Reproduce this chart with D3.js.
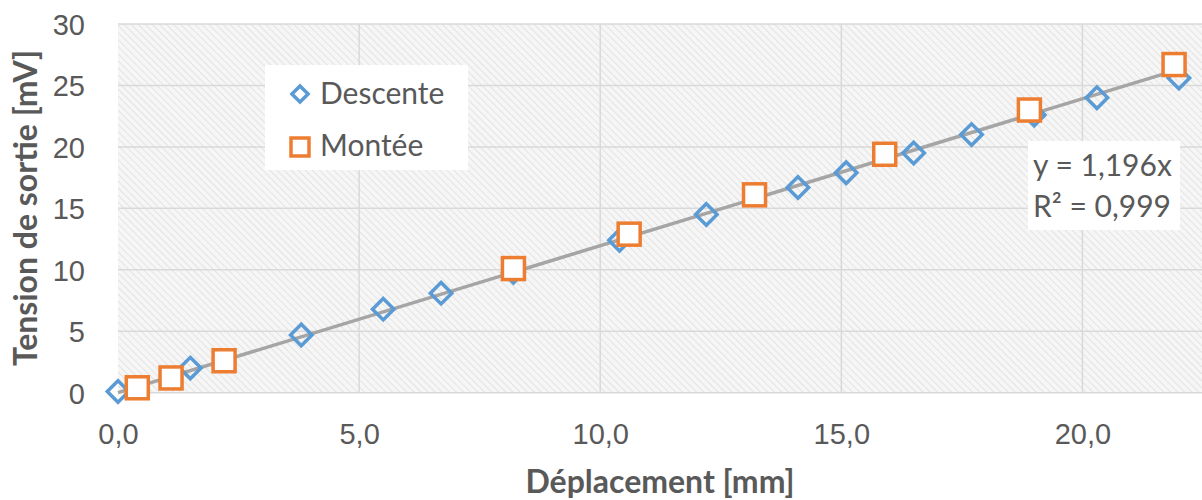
<!DOCTYPE html>
<html><head><meta charset="utf-8">
<script src="https://cdn.jsdelivr.net/npm/d3@7"></script>
<style>html,body{margin:0;padding:0;background:#fff;}svg{display:block;font-family:Lato,"Open Sans",sans-serif;}</style>
</head><body><svg id="c" width="1202" height="500"></svg>
<script>
const descX = [0.0, 1.5, 3.8, 5.5, 6.7, 8.2, 10.4, 12.2, 14.1, 15.1, 16.5, 17.7, 19.0, 20.3, 22.0];
const descY = [0.1, 2.0, 4.7, 6.8, 8.1, 9.8, 12.4, 14.5, 16.7, 17.9, 19.5, 21.0, 22.6, 24.0, 25.6];
const montX = [0.4, 1.1, 2.2, 8.2, 10.6, 13.2, 15.9, 18.9, 21.9];
const montY = [0.4, 1.2, 2.6, 10.1, 12.9, 16.1, 19.4, 23.0, 26.7];
const xTicks = [0, 5, 10, 15, 20];
const yTicks = [0, 5, 10, 15, 20, 25, 30];
const slope = 1.196;
const trendX = [0, 22.0];
const seriesNames = ["Descente", "Montée"];
const eqLines = ["y = 1,196x", "R² = 0,999"];

const svg = d3.select("#c");
const x = d3.scaleLinear().domain([0, 22.5]).range([118, 1203]);
const y = d3.scaleLinear().domain([0, 30]).range([392.7, 24]);
const fmtX = v => d3.format(".1f")(v).replace(".", ",");
const textCol = "#595959";

const defs = svg.append("defs");
const pat = defs.append("pattern").attr("id","hatch").attr("patternUnits","userSpaceOnUse")
  .attr("width",5).attr("height",5).attr("patternTransform","rotate(-45)");
pat.append("rect").attr("width",5).attr("height",5).attr("fill","#f6f6f6");
pat.append("line").attr("x1",0).attr("y1",0).attr("x2",0).attr("y2",5).attr("stroke","#e3e3e3").attr("stroke-width",2);

svg.append("rect").attr("x",x(0)).attr("y",y(30)).attr("width",x(22.5)-x(0)).attr("height",y(0)-y(30)).attr("fill","url(#hatch)");

// gridlines
svg.append("g").selectAll("line").data(yTicks).join("line")
  .attr("x1",x(0)).attr("x2",x(22.5)).attr("y1",d=>y(d)).attr("y2",d=>y(d))
  .attr("stroke","#d9d9d9").attr("stroke-width",1.5);
svg.append("g").selectAll("line").data(xTicks.filter(d=>d>0)).join("line")
  .attr("x1",d=>x(d)).attr("x2",d=>x(d)).attr("y1",y(0)).attr("y2",y(30))
  .attr("stroke","#d9d9d9").attr("stroke-width",1.5);

// axes via d3 axis (labels only)
const yAxis = svg.append("g").attr("transform",`translate(${x(0)},0)`)
  .call(d3.axisLeft(y).tickValues(yTicks).tickSize(0).tickPadding(33));
yAxis.select(".domain").remove();
yAxis.selectAll("text").attr("fill",textCol).style("font-size","29px").attr("dy","0.36em");

const xAxis = svg.append("g").attr("transform",`translate(0,${y(0)})`)
  .call(d3.axisBottom(x).tickValues(xTicks).tickFormat(fmtX).tickSize(0).tickPadding(41));
xAxis.select(".domain").remove();
xAxis.selectAll("text").attr("fill",textCol).style("font-size","29px").attr("dy","0.36em");

// axis titles
svg.append("text").attr("x",660).attr("y",493).attr("text-anchor","middle")
  .attr("fill",textCol).style("font-size","32px").style("font-weight","bold").text("Déplacement [mm]");
svg.append("text").attr("transform","translate(37,208) rotate(-90)").attr("text-anchor","middle")
  .attr("fill",textCol).style("font-size","32px").style("font-weight","bold").text("Tension de sortie [mV]");

// trendline
const tl = d3.line().x(d=>x(d)).y(d=>y(slope*d));
svg.append("path").attr("d",tl(trendX)).attr("stroke","#a5a5a5").attr("stroke-width",3.5).attr("fill","none");

const blue = "#5b9bd5", orange = "#ed7d31";
const dia = d3.symbol().type(d3.symbolSquare).size(230);
const descData = descX.map((v,i)=>[v,descY[i]]);
const montData = montX.map((v,i)=>[v,montY[i]]);

svg.append("g").selectAll("path").data(descData).join("path")
  .attr("d",dia()).attr("transform",d=>`translate(${x(d[0])},${y(d[1])}) rotate(45)`)
  .attr("fill","none").attr("stroke",blue).attr("stroke-width",3.5);
svg.append("g").selectAll("rect").data(montData).join("rect")
  .attr("x",d=>x(d[0])-11).attr("y",d=>y(d[1])-11).attr("width",22).attr("height",22)
  .attr("fill","#fff").attr("stroke",orange).attr("stroke-width",3.5);

// legend
const lg = svg.append("g");
lg.append("rect").attr("x",265).attr("y",65).attr("width",203).attr("height",105).attr("fill","#fff");
lg.append("path").attr("d",d3.symbol().type(d3.symbolSquare).size(130)()).attr("transform","translate(300,94) rotate(45)")
  .attr("fill","none").attr("stroke",blue).attr("stroke-width",3.5);
lg.append("rect").attr("x",291).attr("y",138).attr("width",18).attr("height",18).attr("fill","#fff").attr("stroke",orange).attr("stroke-width",3.5);
lg.selectAll("text").data(seriesNames).join("text")
  .attr("x",320).attr("y",(d,i)=>104+i*52).attr("fill",textCol).style("font-size","30px").text(d=>d);

// equation label
const eq = svg.append("g");
eq.append("rect").attr("x",1028).attr("y",141).attr("width",152).attr("height",89).attr("fill","#fff");
eq.selectAll("text").data(eqLines).join("text")
  .attr("x",1033).attr("y",(d,i)=>176+i*41).attr("fill",textCol).style("font-size","30px").text(d=>d);
</script></body></html>
